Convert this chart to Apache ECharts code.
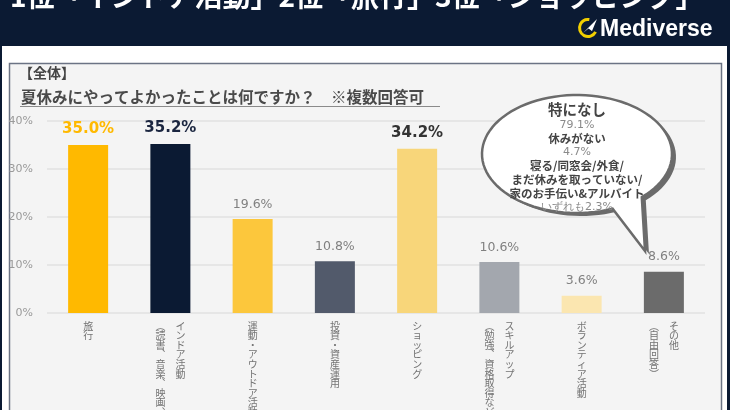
<!DOCTYPE html>
<html>
<head>
<meta charset="utf-8">
<script src="https://cdn.jsdelivr.net/npm/echarts@6/dist/echarts.min.js"></script>
<style>
html,body{margin:0;padding:0;background:#0b1a33;}
#chart{width:730px;height:410px;}
</style>
</head>
<body>
<div id="chart"></div>
<script>
// data
const categories = ['旅行', 'インドア活動', '運動・アウトドア活動', '投資・資産運用', 'ショッピング', 'スキルアップ', 'ボランティア活動', 'その他'];
const subLabels = ['', '（読書、音楽、映画、ゲームなど）', '', '', '', '（勉強、資格取得など）', '', '（自由回答）'];
const values = [35.0, 35.2, 19.6, 10.8, 34.2, 10.6, 3.6, 8.6];
const yTicks = [0, 10, 20, 30, 40];
const headline = '1位「インドア活動」2位「旅行」3位「ショッピング」';
const bubbleNames = ['特になし', '休みがない', '寝る/同窓会/外食/\nまだ休みを取っていない/\n家のお手伝い&アルバイト'];
const bubbleValues = ['79.1%', '4.7%', 'いずれも2.3%'];

// styles
const barColors = ['#ffb900', '#0b1a33', '#fcc73c', '#525a6b', '#f8d67a', '#a3a7ae', '#fbe6b0', '#6b6b6b'];
const top3 = {0: '#ffb900', 1: '#1b2640', 4: '#333333'};

const chart = echarts.init(document.getElementById('chart'));

// 縦書きラベル
const vmap = {'（': '︵', '）': '︶', '、': '︑', 'ー': '︱'};
function vertical(main, sub) {
  const a = Array.from(main);
  const b = Array.from(sub || '').map(c => vmap[c] || c);
  const n = Math.max(a.length, b.length);
  const lines = [];
  for (let i = 0; i < n; i++) {
    lines.push(sub ? (b[i] || '　') + '　' + (a[i] || '　') : a[i]);
  }
  return lines.join('\n');
}

let bubbleText = '';
bubbleNames.forEach((name, i) => {
  const parts = name.split('\n').map(s => '{' + (i === 0 ? 't' : 'n') + '|' + s + '}');
  bubbleText += parts.join('\n') + '\n{v|' + bubbleValues[i] + '}' + (i < bubbleNames.length - 1 ? '\n' : '');
});

// 吹き出しの形 (楕円 + しっぽ)
const bubblePoly = (function () {
  const pts = [[645, 251]];
  const steps = 90;
  const s = 47 * Math.PI / 180, e = (68 - 360) * Math.PI / 180;
  for (let k = 0; k <= steps; k++) {
    const t = s + (e - s) * k / steps;
    pts.push([577 + 95 * Math.cos(t), 154 + 59 * Math.sin(t)]);
  }
  return pts;
})();

const option = {
  animation: false,
  grid: {left: 47, right: 25, top: 121, bottom: 97, outerBoundsMode: 'none', containLabel: false},
  xAxis: {
    type: 'category',
    data: categories,
    axisLine: {show: false},
    axisTick: {show: false},
    axisLabel: {
      interval: 0,
      margin: 8,
      color: '#737373',
      fontSize: 10,
      lineHeight: 9.6,
      fontFamily: 'Noto Sans CJK JP',
      verticalAlign: 'top',
      formatter: (v, i) => vertical(v, subLabels[i])
    }
  },
  yAxis: {
    type: 'value',
    min: yTicks[0],
    max: yTicks[yTicks.length - 1],
    interval: 10,
    axisLine: {show: false},
    axisTick: {show: false},
    axisLabel: {formatter: '{value}%', color: '#9a9a9a', fontSize: 11, margin: 14, fontFamily: 'DejaVu Sans'},
    splitLine: {lineStyle: {color: '#e6e6e6', width: 2}}
  },
  series: [{
    type: 'bar',
    barWidth: 40,
    data: values.map((v, i) => ({
      value: v,
      itemStyle: {color: barColors[i]},
      label: top3[i]
        ? {color: top3[i], fontSize: 15, fontWeight: 'bold'}
        : {color: '#808080', fontSize: 12.5}
    })),
    label: {
      show: true,
      position: 'top',
      distance: 8,
      fontFamily: 'DejaVu Sans',
      formatter: p => p.value.toFixed(1) + '%'
    }
  }],
  graphic: [
    {type: 'rect', z: -20, shape: {x: 2, y: 46, width: 725, height: 370}, style: {fill: '#ffffff'}},
    {type: 'rect', z: -19, shape: {x: 9.5, y: 63.5, width: 712, height: 360}, style: {fill: '#f4f4f4', stroke: '#6b7384', lineWidth: 1.5}},
    {type: 'text', z: 10, style: {text: headline, x: 10, y: -4, fill: '#ffffff', fontSize: 28, fontWeight: 'bold', fontFamily: 'Noto Sans CJK JP', verticalAlign: 'middle'}},
    {type: 'arc', z: 10, shape: {cx: 588, cy: 28, r: 8.5, startAngle: Math.PI * 0.15, endAngle: Math.PI * 1.55}, style: {stroke: '#f2cf00', lineWidth: 3, fill: null}},
    {type: 'polygon', z: 10, shape: {points: [[583, 33], [597, 19], [592, 31], [588.5, 28.5]]}, style: {fill: '#ffffff'}},
    {type: 'text', z: 10, style: {text: 'Mediverse', x: 600, y: 30, fill: '#ffffff', fontSize: 23, fontWeight: 'bold', fontFamily: 'Liberation Sans', verticalAlign: 'middle'}},
    {type: 'text', z: 10, style: {text: '【全体】', x: 19, y: 73, fill: '#444', fontSize: 14, fontWeight: 'bold', fontFamily: 'Noto Sans CJK JP', verticalAlign: 'middle'}},
    {type: 'text', z: 10, style: {text: '夏休みにやってよかったことは何ですか？　※複数回答可', x: 21, y: 97, fill: '#4a4a4a', fontSize: 15.5, fontWeight: 'bold', fontFamily: 'Noto Sans CJK JP', verticalAlign: 'middle'}},
    {type: 'line', z: 10, shape: {x1: 20, y1: 106.5, x2: 440, y2: 106.5}, style: {stroke: '#8a8a8a', lineWidth: 1}},
    {type: 'polygon', z: 100, x: 4, y: 3, shape: {points: bubblePoly}, style: {fill: '#6b6b6b'}},
    {type: 'polygon', z: 101, shape: {points: bubblePoly}, style: {fill: '#ffffff', stroke: '#6b6b6b', lineWidth: 2.5}},
    {type: 'text', z: 102, style: {
      text: bubbleText, x: 577, y: 157, align: 'center', verticalAlign: 'middle',
      rich: {
        t: {fontSize: 14.5, fontWeight: 'bold', fill: '#444', lineHeight: 18, fontFamily: 'Noto Sans CJK JP', align: 'center'},
        n: {fontSize: 11.5, fontWeight: 'bold', fill: '#444', lineHeight: 14, fontFamily: 'Noto Sans CJK JP', align: 'center'},
        v: {fontSize: 11, fill: '#8a8a8a', lineHeight: 13, fontFamily: 'DejaVu Sans', align: 'center'}
      }
    }}
  ]
};
chart.setOption(option);
</script>
</body>
</html>
